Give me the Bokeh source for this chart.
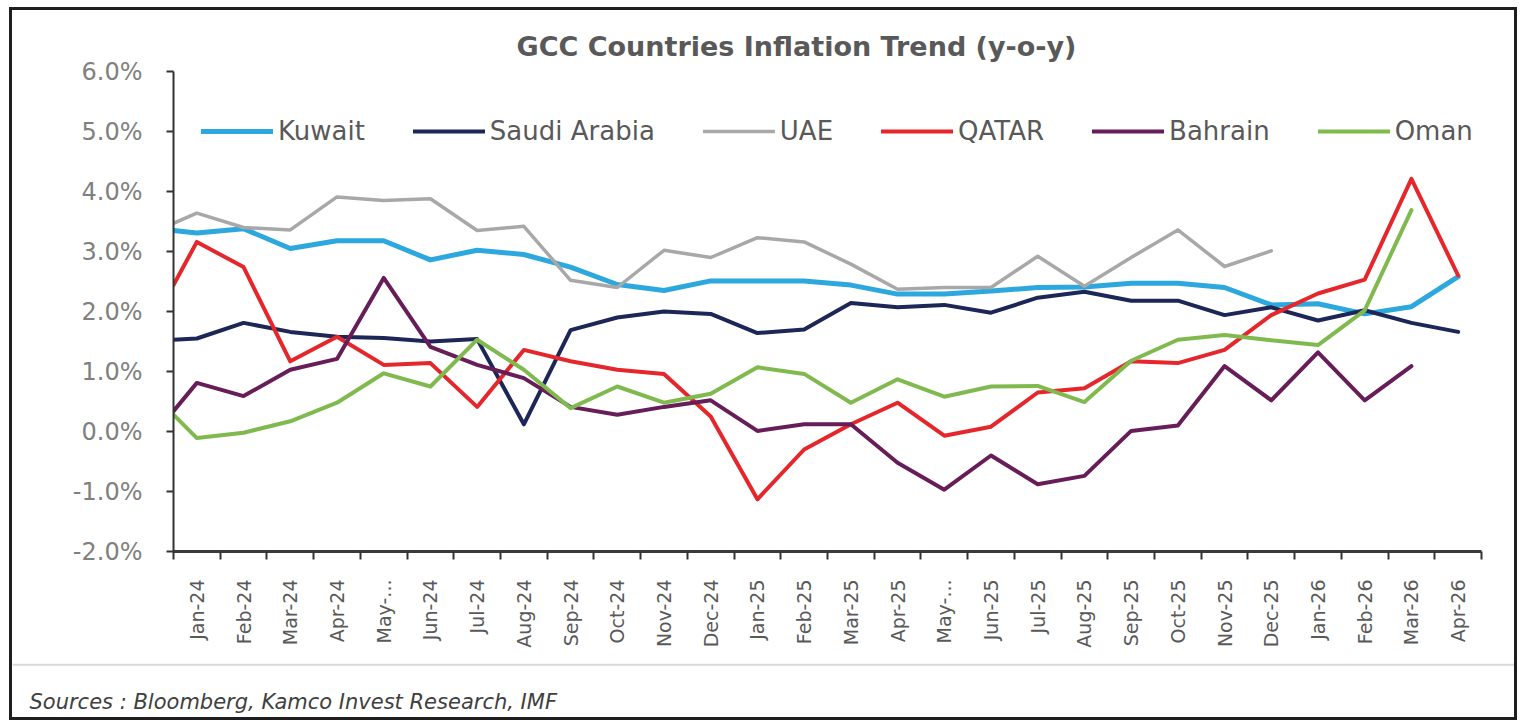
import numpy as np
from bokeh.plotting import figure
from bokeh.models import (Range1d, FixedTicker, SingleIntervalTicker, PrintfTickFormatter,
                          Span, Label)
from bokeh.layouts import column
from bokeh.embed import file_html
from bokeh.resources import INLINE

# ---------------- data ----------------
months = ["Jan-24", "Feb-24", "Mar-24", "Apr-24", "May-...", "Jun-24", "Jul-24", "Aug-24",
          "Sep-24", "Oct-24", "Nov-24", "Dec-24", "Jan-25", "Feb-25", "Mar-25", "Apr-25",
          "May-...", "Jun-25", "Jul-25", "Aug-25", "Sep-25", "Oct-25", "Nov-25", "Dec-25",
          "Jan-26", "Feb-26", "Mar-26", "Apr-26"]

series_names = ["Kuwait", "Saudi Arabia", "UAE", "QATAR", "Bahrain", "Oman"]

# value where each line meets the left axis (before Jan-24), in %
edge_values = [3.35, 1.53, 3.47, 2.44, 0.34, 0.28]

kuwait = [3.31, 3.38, 3.05, 3.18, 3.18, 2.86, 3.02, 2.95, 2.74, 2.45, 2.35, 2.51,
          2.51, 2.51, 2.44, 2.29, 2.29, 2.34, 2.40, 2.41, 2.47, 2.47, 2.40, 2.11,
          2.13, 1.96, 2.08, 2.58]
saudi = [1.55, 1.81, 1.66, 1.58, 1.56, 1.50, 1.54, 0.12, 1.69, 1.90, 2.00, 1.96,
         1.64, 1.70, 2.14, 2.07, 2.11, 1.98, 2.23, 2.33, 2.18, 2.18, 1.94, 2.07,
         1.85, 2.02, 1.81, 1.66]
uae = [3.64, 3.40, 3.36, 3.91, 3.85, 3.88, 3.35, 3.42, 2.52, 2.40, 3.02, 2.90,
       3.23, 3.16, 2.79, 2.37, 2.40, 2.40, 2.92, 2.42, 2.90, 3.36, 2.75, 3.01,
       None, None, None, None]
qatar = [3.16, 2.74, 1.17, 1.58, 1.11, 1.14, 0.41, 1.36, 1.17, 1.03, 0.96, 0.25,
         -1.13, -0.30, 0.12, 0.48, -0.07, 0.08, 0.65, 0.72, 1.17, 1.14, 1.36, 1.94,
         2.30, 2.53, 4.21, 2.60]
bahrain = [0.81, 0.59, 1.03, 1.21, 2.56, 1.41, 1.11, 0.89, 0.41, 0.28, 0.41, 0.52,
           0.01, 0.12, 0.12, -0.52, -0.97, -0.40, -0.88, -0.74, 0.01, 0.10, 1.09, 0.52,
           1.32, 0.52, 1.09, None]
oman = [-0.11, -0.02, 0.17, 0.48, 0.97, 0.75, 1.53, 1.03, 0.39, 0.75, 0.48, 0.63,
        1.07, 0.96, 0.48, 0.87, 0.58, 0.75, 0.76, 0.49, 1.18, 1.53, 1.61, 1.52,
        1.44, 2.02, 3.69, None]

series_values = [kuwait, saudi, uae, qatar, bahrain, oman]
series_colors = ["#2CA8DF", "#1C2657", "#A8A8A8", "#E5262B", "#661D58", "#80BA4E"]
series_widths = [5, 4, 3.5, 4, 4, 4]

title_text = "GCC Countries Inflation Trend (y-o-y)"
source_text = "Sources : Bloomberg, Kamco Invest Research, IMF"

y_min, y_max = -2, 6

# ---------------- figure ----------------
W = 1502
n = len(months)
p = figure(width=W, height=652, output_backend="svg", toolbar_location=None,
           x_range=Range1d(0, n), y_range=Range1d(y_min, y_max),
           min_border_left=161, min_border_right=33, min_border_top=61,
           min_border_bottom=111)
p.frame_align = False
p.outline_line_color = None
p.background_fill_color = "white"
p.border_fill_color = "white"
p.xgrid.visible = False
p.ygrid.visible = False

p.title.text = title_text
p.title.align = "left"
p.title.offset = 343
p.title.text_font = "DejaVu Sans"
p.title.text_font_size = "27px"
p.title.text_font_style = "bold"
p.title.text_color = "#595959"
p.title.standoff = 19

xs = [0.0] + [i + 0.5 for i in range(n)]
for name, vals, edge, col, lw in zip(series_names, series_values, edge_values,
                                     series_colors, series_widths):
    ys = np.array([edge] + vals, dtype=float)
    p.line(xs, ys, line_color=col, line_width=lw, line_join="round",
           line_cap="round", legend_label=name)

# y axis
ya = p.yaxis[0]
ya.ticker = SingleIntervalTicker(interval=1, num_minor_ticks=0)
ya.formatter = PrintfTickFormatter(format="%.1f%%")
ya.axis_line_color = "#333333"
ya.axis_line_width = 2
ya.major_tick_line_color = "#333333"
ya.major_tick_line_width = 2
ya.major_tick_out = 7
ya.major_tick_in = 0
ya.minor_tick_line_color = None
ya.major_label_text_font = "DejaVu Sans"
ya.major_label_text_font_size = "24px"
ya.major_label_text_color = "#808080"
ya.major_label_standoff = 24

# x axis: labels at category centres, ticks at category boundaries
xa = p.xaxis[0]
centres = [i + 0.5 for i in range(n)]
xa.ticker = FixedTicker(ticks=centres, minor_ticks=list(range(n + 1)))
xa.major_label_overrides = {c: m for c, m in zip(centres, months)}
xa.major_label_orientation = np.pi / 2
xa.major_tick_line_color = None
xa.major_tick_out = 0
xa.major_tick_in = 0
xa.minor_tick_line_color = "#333333"
xa.minor_tick_line_width = 2
xa.minor_tick_out = 8
xa.minor_tick_in = 0
xa.axis_line_color = "#3a3a3a"
xa.axis_line_width = 3
xa.major_label_text_font = "DejaVu Sans"
xa.major_label_text_font_size = "19px"
xa.major_label_text_color = "#595959"
xa.major_label_standoff = 20

# legend
lg = p.legend[0]
lg.orientation = "horizontal"
lg.location = (28, 405)
lg.padding = 0
lg.margin = 0
lg.spacing = 48
lg.glyph_width = 72
lg.glyph_height = 20
lg.label_standoff = 5
lg.label_text_font = "DejaVu Sans"
lg.label_text_font_size = "26px"
lg.label_text_color = "#595959"
lg.border_line_color = None
lg.background_fill_alpha = 0

# footer with source
f = figure(width=W, height=55, output_backend="svg", toolbar_location=None,
           x_range=Range1d(0, 1), y_range=Range1d(0, 1),
           min_border=0, min_border_left=0, min_border_right=0,
           min_border_top=0, min_border_bottom=0)
f.frame_align = False
f.axis.visible = False
f.grid.visible = False
f.outline_line_color = None
f.add_layout(Span(location=0.96, dimension="width", line_color="#d9d9d9", line_width=2))
f.add_layout(Label(x=0, y=0.29, x_offset=17, text=source_text, text_baseline="middle",
                   text_font="DejaVu Sans", text_font_size="21px",
                   text_font_style="italic", text_color="#404040"))

layout = column(p, f, spacing=0,
                styles={"border": "3px solid #1e1e1e", "background": "white",
                        "margin-left": "9px", "margin-top": "7px"})

open("out.html", "w").write(file_html(layout, INLINE))
